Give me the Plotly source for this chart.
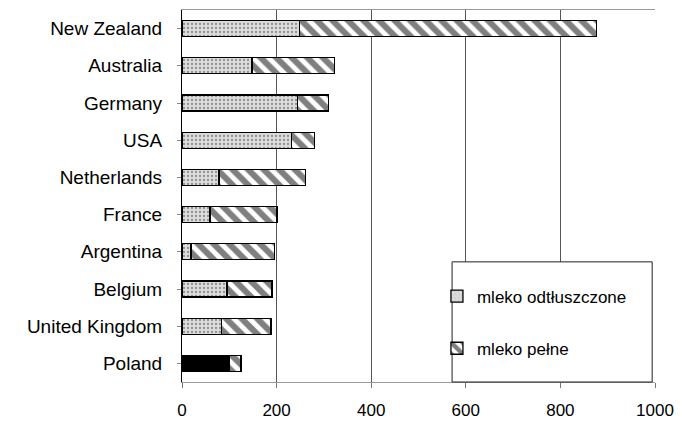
import plotly.graph_objects as go

countries = ["New Zealand", "Australia", "Germany", "USA", "Netherlands",
             "France", "Argentina", "Belgium", "United Kingdom", "Poland"]
skim = [248, 148, 244, 231, 78, 59, 19, 95, 83, 100]
whole = [629, 174, 65, 49, 183, 142, 176, 95, 105, 25]
x_ticks = [0, 200, 400, 600, 800, 1000]

skim_colors = ["#dcdcdc"] * (len(countries) - 1) + ["#000000"]
skim_patterns = ["."] * (len(countries) - 1) + [""]

fig = go.Figure()
fig.add_trace(go.Bar(
    y=countries, x=skim, orientation="h", name="mleko odtłuszczone",
    legendgroup="a",
    marker=dict(color=skim_colors, line=dict(color="#000000", width=1.3),
                pattern=dict(shape=skim_patterns, fgcolor="#bdbdbd", size=4, solidity=0.25)),
))
fig.add_trace(go.Bar(
    y=countries, x=whole, orientation="h", name="mleko pełne",
    legendgroup="b",
    marker=dict(color="#ffffff", line=dict(color="#000000", width=1.3),
                pattern=dict(shape="\\", fgcolor="#000000", bgcolor="#ffffff",
                             size=11, solidity=0.55)),
))

fig.update_layout(
    barmode="stack",
    bargap=0.57,
    width=682, height=423,
    margin=dict(l=182, r=27, t=10, b=41, autoexpand=False),
    paper_bgcolor="white", plot_bgcolor="white",
    font=dict(family="Liberation Sans, Arial, sans-serif", color="#000000"),
    showlegend=True,
    legend=dict(
        x=0.539, y=0.278, xanchor="left", yanchor="top",
        bgcolor="rgba(0,0,0,0)", borderwidth=0,
        font=dict(size=17), traceorder="grouped", tracegroupgap=27,
        itemwidth=30,
    ),
    shapes=[dict(type="rect", xref="paper", yref="paper",
                 x0=0.571, x1=0.994, y0=0, y1=0.323,
                 fillcolor="white", line=dict(color="#222222", width=1),
                 layer="above")],
    xaxis=dict(
        range=[0, 1000], tickvals=x_ticks, ticktext=[str(v) for v in x_ticks],
        showgrid=True, gridcolor="#555555", gridwidth=1,
        showline=True, linecolor="#999999", linewidth=1, mirror=True,
        ticks="outside", ticklen=5, tickcolor="#777777", automargin=False,
        ticklabelstandoff=8, tickfont=dict(size=17), zeroline=False,
    ),
    yaxis=dict(
        categoryorder="array", categoryarray=countries, autorange="reversed",
        showline=True, linecolor="#000000", linewidth=1.2,
        ticks="outside", ticklen=4, tickcolor="#888888", automargin=False,
        ticklabelstandoff=11,
        tickfont=dict(size=19), showgrid=False,
    ),
)

fig.write_html("out.html")
